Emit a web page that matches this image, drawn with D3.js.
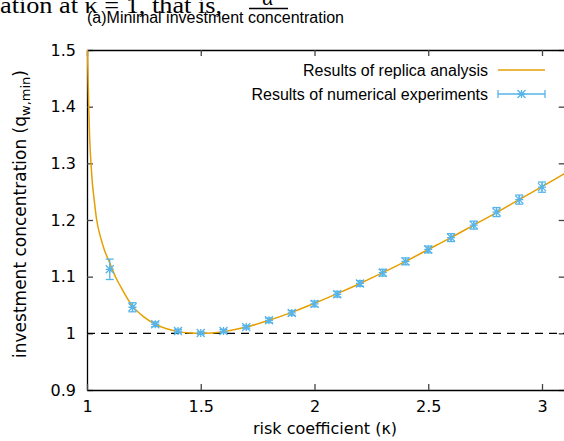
<!DOCTYPE html>
<html><head><meta charset="utf-8">
<script src="https://cdn.jsdelivr.net/npm/d3@7"></script>
<style>
html,body{margin:0;padding:0;background:#fff;overflow:hidden}
svg{display:block;font-family:"Liberation Sans",Arial,sans-serif}
</style></head>
<body>
<svg id="chart" width="564" height="441"></svg>
<script>
// ---- data ----
const kappaExp = [1.1,1.2,1.3,1.4,1.5,1.6,1.7,1.8,1.9,2.0,2.1,2.2,2.3,2.4,2.5,2.6,2.7,2.8,2.9,3.0];
const qExp     = [1.113,1.046,1.016,1.004,1.0005,1.004,1.011,1.023,1.036,1.052,1.069,1.088,1.107,1.127,1.148,1.169,1.191,1.214,1.236,1.258];
const qErr     = [0.018,0.008,0.004,0.003,0.002,0.003,0.003,0.004,0.004,0.005,0.005,0.005,0.006,0.006,0.006,0.007,0.007,0.008,0.008,0.009];
const kappaTheory = [1.002,1.0075,1.012,1.0176,1.025,1.03,1.0426,1.06,1.075,1.1,1.126,1.15,1.2,1.25,1.3,1.35,1.4,1.45,1.5,1.55,1.6,1.7,1.8,1.9,2.0,2.1,2.2,2.3,2.4,2.5,2.6,2.7,2.8,2.9,3.0,3.1];
const qTheory     = [1.5,1.4,1.341,1.3,1.259,1.241,1.2,1.169,1.149,1.124,1.099,1.081,1.048,1.029,1.016,1.008,1.003,1.0007,1.0,1.0008,1.003,1.011,1.023,1.037,1.053,1.070,1.088,1.107,1.127,1.148,1.169,1.191,1.213,1.236,1.259,1.282];
const xTicks = [1,1.5,2,2.5,3];
const xTickLabels = ["1","1.5","2","2.5","3"];
const yTicks = [0.9,1.0,1.1,1.2,1.3,1.4,1.5];
const yTickLabels = ["0.9","1","1.1","1.2","1.3","1.4","1.5"];
const legendLabels = ["Results of replica analysis","Results of numerical experiments"];
const titleText = "(a)Minimal investment concentration";
const bgText = "ation at \u03BA = 1, that is,";

// ---- layout ----
const L = 87, R = 564.75, T = 50, B = 390;
const orange = "#e69f00", blue = "#56b4e9";
const axisFont = "'DejaVu Sans',sans-serif";
const svg = d3.select("#chart");
const x = d3.scaleLinear().domain([1, 3.1]).range([L, R]);
const y = d3.scaleLinear().domain([0.9, 1.5]).range([B, T]);

// background page text (clipped paper text)
svg.append("text").attr("x", 0).attr("y", 13)
  .attr("font-family", "'Liberation Serif','DejaVu Serif',serif").attr("font-size", 24)
  .attr("textLength", 222).attr("lengthAdjust", "spacingAndGlyphs")
  .text(bgText);
svg.append("line").attr("x1", 249).attr("x2", 288).attr("y1", 8.5).attr("y2", 8.5)
  .attr("stroke", "#000").attr("stroke-width", 1.6);
svg.append("text").attr("x", 268).attr("y", 5).attr("text-anchor", "middle")
  .attr("font-family", "'Liberation Serif','DejaVu Serif',serif").attr("font-style","italic").attr("font-size", 22)
  .text("\u03B1");

// title
svg.append("text").attr("x", 87).attr("y", 23).attr("font-size", 16).text(titleText);

// clip
svg.append("clipPath").attr("id", "clip").append("rect")
  .attr("x", L).attr("y", T).attr("width", R - L).attr("height", B - T);

// axes
const fmtX = d => xTickLabels[xTicks.indexOf(d)];
const fmtY = d => yTickLabels[yTicks.indexOf(d)];
const gL = svg.append("g").attr("transform", `translate(${L},0)`)
  .call(d3.axisLeft(y).tickValues(yTicks).tickFormat(fmtY).tickSizeInner(-6).tickSizeOuter(0).tickPadding(11));
const gR = svg.append("g").attr("transform", `translate(${R},0)`)
  .call(d3.axisRight(y).tickValues(yTicks).tickFormat("").tickSizeInner(-6).tickSizeOuter(0));
const gB = svg.append("g").attr("transform", `translate(0,${B})`)
  .call(d3.axisBottom(x).tickValues(xTicks).tickFormat(fmtX).tickSizeInner(-6).tickSizeOuter(0).tickPadding(11));
const gT = svg.append("g").attr("transform", `translate(0,${T})`)
  .call(d3.axisTop(x).tickValues(xTicks).tickFormat("").tickSizeInner(-6).tickSizeOuter(0));
[gL, gR, gB, gT].forEach(g => {
  g.select(".domain").attr("stroke", "#000").attr("stroke-width", 1.3);
  g.selectAll(".tick line").attr("stroke", "#444").attr("stroke-width", 1.3);
  g.selectAll(".tick text").attr("font-size", 16).attr("fill", "#000")
    .attr("font-family", axisFont);
});

// axis titles
svg.append("text").attr("x", 325).attr("y", 434).attr("text-anchor", "middle")
  .attr("font-family", axisFont).attr("font-size", 16).text("risk coefficient (\u03BA)");
const yt = svg.append("text").attr("transform", "translate(26,214) rotate(-90)")
  .attr("text-anchor", "middle").attr("font-family", axisFont).attr("font-size", 17);
yt.append("tspan").text("investment concentration (q");
yt.append("tspan").attr("font-size", 13).attr("dy", 4).text("w,min");
yt.append("tspan").attr("dy", -4).text(")");

// reference dashed line at 1
svg.append("line").attr("x1", x(1)).attr("x2", R).attr("y1", y(1)).attr("y2", y(1))
  .attr("stroke", "#000").attr("stroke-width", 1.3).attr("stroke-dasharray", "8,6");

// theory curve
const theory = kappaTheory.map((k, i) => [k, qTheory[i]]);
svg.append("path").datum(theory).attr("clip-path", "url(#clip)")
  .attr("fill", "none").attr("stroke", orange).attr("stroke-width", 1.5)
  .attr("d", d3.line().x(d => x(d[0])).y(d => y(d[1])).curve(d3.curveMonotoneX));

// experimental points
const exp = kappaExp.map((k, i) => ({k, q: qExp[i], e: qErr[i]}));
const cap = 4, ms = 4;
const gE = svg.append("g").attr("stroke", blue).attr("stroke-width", 1.3).attr("fill", "none");
const pts = gE.selectAll("g").data(exp).join("g");
pts.append("line").attr("x1", d => x(d.k)).attr("x2", d => x(d.k))
  .attr("y1", d => y(d.q - d.e)).attr("y2", d => y(d.q + d.e));
pts.append("line").attr("x1", d => x(d.k) - cap).attr("x2", d => x(d.k) + cap)
  .attr("y1", d => y(d.q - d.e)).attr("y2", d => y(d.q - d.e));
pts.append("line").attr("x1", d => x(d.k) - cap).attr("x2", d => x(d.k) + cap)
  .attr("y1", d => y(d.q + d.e)).attr("y2", d => y(d.q + d.e));
const star = (cx, cy, s) => `M${cx-s},${cy}H${cx+s}M${cx},${cy-s}V${cy+s}M${cx-s},${cy-s}L${cx+s},${cy+s}M${cx-s},${cy+s}L${cx+s},${cy-s}`;
pts.append("path").attr("d", d => star(x(d.k), y(d.q), ms));

// legend
const lx = 488, ly1 = 70, ly2 = 94, s1 = 498, s2 = 545;
svg.append("text").attr("x", lx).attr("y", ly1).attr("dy", "0.35em").attr("text-anchor", "end")
  .attr("font-size", 16).text(legendLabels[0]);
svg.append("line").attr("x1", s1).attr("x2", s2).attr("y1", ly1).attr("y2", ly1)
  .attr("stroke", orange).attr("stroke-width", 1.5);
svg.append("text").attr("x", lx).attr("y", ly2).attr("dy", "0.35em").attr("text-anchor", "end")
  .attr("font-size", 16).text(legendLabels[1]);
const lg = svg.append("g").attr("stroke", blue).attr("stroke-width", 1.3).attr("fill", "none");
lg.append("line").attr("x1", s1).attr("x2", s2).attr("y1", ly2).attr("y2", ly2);
lg.append("line").attr("x1", s1).attr("x2", s1).attr("y1", ly2 - cap).attr("y2", ly2 + cap);
lg.append("line").attr("x1", s2).attr("x2", s2).attr("y1", ly2 - cap).attr("y2", ly2 + cap);
lg.append("path").attr("d", star((s1 + s2) / 2, ly2, ms));
</script>
</body></html>
